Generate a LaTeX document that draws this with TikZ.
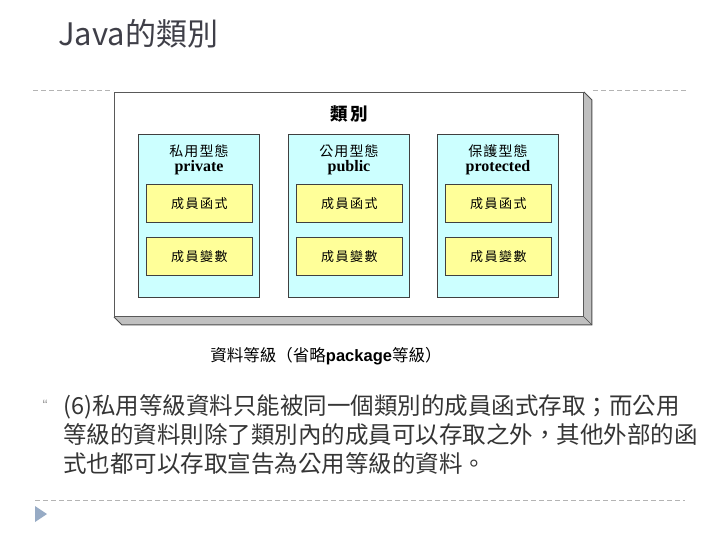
\documentclass[tikz,border=0pt]{standalone}
\usepackage{fontspec}
\usetikzlibrary{calc}
\setmainfont{Noto Sans CJK TC}
\newfontfamily\cjkfont{Noto Sans CJK TC}
\newfontfamily\cjkhead[LetterSpace=8]{Noto Sans CJK TC}
\newfontfamily\cjkmem[LetterSpace=12]{Noto Sans CJK TC}
\newfontfamily\timesfont{Liberation Serif}
\newfontfamily\arialfont{Liberation Sans}
\definecolor{cyanfill}{HTML}{CCFFFF}
\definecolor{yellowfill}{HTML}{FFFF99}
\definecolor{shadowgray}{HTML}{C0C0C0}
\definecolor{titlegray}{HTML}{3F3F48}
\definecolor{textgray}{HTML}{353535}
\definecolor{dashgray}{HTML}{B4B4B4}
\definecolor{bulletblue}{HTML}{97ABC5}
\begin{document}
\begin{tikzpicture}[x=1pt,y=-1pt,
  framebox/.style={draw=black!65, fill=white, line width=0.9pt, minimum width=469pt, minimum height=224pt, inner sep=0pt, anchor=north west},
  colbox/.style={draw=black!75, fill=cyanfill, line width=0.8pt, minimum width=121pt, minimum height=163pt, inner sep=0pt, anchor=north west},
  membox/.style={draw=black!75, fill=yellowfill, line width=0.8pt, minimum width=106pt, minimum height=38pt, inner sep=0pt, anchor=north west, font=\cjkmem\fontsize{13}{13}\selectfont},
  headcjk/.style={inner sep=0pt, font=\cjkhead\fontsize{14}{14}\selectfont},
  headlat/.style={inner sep=0pt, font=\timesfont\bfseries\fontsize{16}{16}\selectfont},
  bodytext/.style={inner sep=0pt, anchor=base west, text=textgray, font=\cjkfont\fontsize{23.5}{23.5}\selectfont},
  dashline/.style={draw=dashgray, line width=1pt, dash pattern=on 5pt off 3pt}
]
\useasboundingbox (0,0) rectangle (720,540);
\fill[white] (0,0) rectangle (720,540);

% title
\node[inner sep=0pt, anchor=base west, text=titlegray, font=\cjkfont\fontsize{31}{31}\selectfont] (title) at (58,46) {Java的類別};

% dashed separators
\coordinate (d1a) at (33,91); \coordinate (d1b) at (113,91);
\coordinate (d2a) at (593,91); \coordinate (d2b) at (687,91);
\coordinate (d3a) at (35,500); \coordinate (d3b) at (685,500);
\draw[dashline] (d1a) -- (d1b);
\draw[dashline] (d2a) -- (d2b);
\draw[dashline] (d3a) -- (d3b);

% frame with 3D shadow
\node[framebox] (frame) at (114,92) {};
\fill[shadowgray] (frame.north east) -- ++(8,8) -- ($(frame.south east)+(8,8)$) -- ($(frame.south west)+(8,8)$) -- (frame.south west) -- (frame.south east) -- cycle;
\draw[black!70, line width=0.9pt] (frame.north east) -- ++(8,8) -- ($(frame.south east)+(8,8)$) -- ($(frame.south west)+(8,8)$) -- (frame.south west);
\draw[black!70, line width=0.6pt] (frame.south east) -- ++(8,8);
\node[framebox] (frame2) at (114,92) {};

\node[inner sep=0pt, font=\cjkfont\bfseries\fontsize{17.5}{17.5}\selectfont] (classtitle) at (349,114) {類\,別};

% columns
\node[colbox] (c1) at (138,134) {};
\node[colbox] (c2) at (288,134) {};
\node[colbox] (c3) at (437,134) {};

\node[headcjk] (h1a) at (199,151) {私用型態};
\node[headlat] (h1b) at (199,168) {private};
\node[headcjk] (h2a) at (349,151) {公用型態};
\node[headlat] (h2b) at (349,168) {public};
\node[headcjk] (h3a) at (498,151) {保護型態};
\node[headlat] (h3b) at (498,168) {protected};

\node[membox] (f1) at (146,184) {成員函式};
\node[membox] (v1) at (146,237) {成員變數};
\node[membox] (f2) at (296,184) {成員函式};
\node[membox] (v2) at (296,237) {成員變數};
\node[membox] (f3) at (445,184) {成員函式};
\node[membox] (v3) at (445,237) {成員變數};

% caption
\node[inner sep=0pt, anchor=base, font=\cjkfont\fontsize{16.5}{16.5}\selectfont] (caption) at (326,361) {資料等級（省略{\arialfont\bfseries package}等級）};

% bullet text
\node[inner sep=0pt, text=black!40, font=\arialfont\fontsize{15}{15}\selectfont] (bul) at (45,405) {“};
\node[bodytext] (l1) at (63,414) {(6)私用等級資料只能被同一個類別的成員函式存取；而公用};
\node[bodytext] (l2) at (63,443) {等級的資料則除了類別內的成員可以存取之外，其他外部的函};
\node[bodytext] (l3) at (63,472) {式也都可以存取宣告為公用等級的資料。};

% bottom triangle bullet
\fill[bulletblue] (35,506) -- (47,514) -- (35,522) -- cycle;
\end{tikzpicture}
\end{document}
